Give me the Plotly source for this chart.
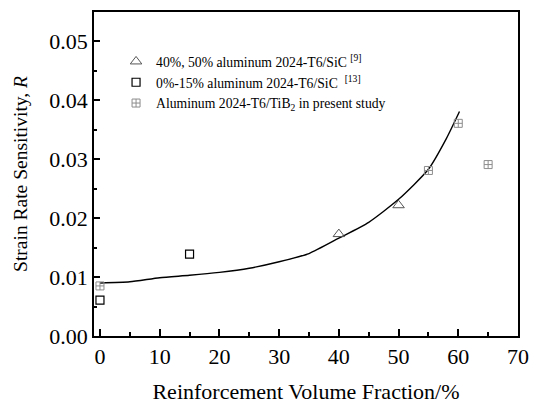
import plotly.graph_objects as go

# Data
tri_x = [40, 50]
tri_y = [0.0173, 0.0222]
sq_x = [0, 15]
sq_y = [0.0061, 0.0139]
tib_x = [0, 55, 60, 65]
tib_y = [0.0085, 0.0281, 0.0361, 0.0291]
curve_x = [0, 5, 10, 15, 20, 25, 30, 35, 40, 45, 50, 55, 58, 60.2]
curve_y = [0.0090, 0.0092, 0.0099, 0.0103, 0.0108, 0.0115, 0.0126, 0.0140,
           0.0166, 0.0193, 0.0232, 0.0283, 0.0335, 0.0381]

x_ticks = [0, 10, 20, 30, 40, 50, 60, 70]
y_ticks = [0.00, 0.01, 0.02, 0.03, 0.04, 0.05]

FONT = "Liberation Serif"

fig = go.Figure()
fig.add_trace(go.Scatter(x=curve_x, y=curve_y, mode="lines",
                         line=dict(color="black", width=1.4, shape="spline", smoothing=0.6),
                         showlegend=False))
fig.add_trace(go.Scatter(x=tri_x, y=tri_y, mode="markers",
                         name="40%, 50% aluminum 2024-T6/SiC <sup>[9]</sup>",
                         marker=dict(symbol="triangle-up-open", size=10, color="#555555",
                                     line=dict(width=1))))
fig.add_trace(go.Scatter(x=sq_x, y=sq_y, mode="markers",
                         name="0%-15% aluminum 2024-T6/SiC  <sup>[13]</sup>",
                         marker=dict(symbol="square-open", size=8, color="black",
                                     line=dict(width=1.2))))
fig.add_trace(go.Scatter(x=tib_x, y=tib_y, mode="markers",
                         name="Aluminum 2024-T6/TiB<sub>2</sub> in present study",
                         marker=dict(symbol="square-cross-open", size=8, color="#8c8c8c",
                                     line=dict(width=1))))

fig.update_layout(
    width=537, height=404,
    margin=dict(l=94, r=19, t=12, b=68),
    paper_bgcolor="white", plot_bgcolor="white",
    font=dict(family=FONT, color="black"),
    legend=dict(x=0.052, y=0.895, xanchor="left", yanchor="top",
                font=dict(family=FONT, size=13.7, color="black"),
                bgcolor="rgba(0,0,0,0)", tracegroupgap=0),
)
fig.update_xaxes(range=[-1, 70], tickvals=x_ticks, ticks="inside", ticklen=7,
                 tickwidth=1.5, tickcolor="black", automargin=False,
                 minor=dict(ticks="inside", ticklen=4, dtick=5, tick0=0,
                            tickcolor="black", tickwidth=1.5),
                 showline=True, linecolor="black", linewidth=1.8, mirror=True,
                 showgrid=False, zeroline=False,
                 tickfont=dict(family=FONT, size=22, color="black"),
                 title=dict(text="Reinforcement Volume Fraction/%",
                            font=dict(family=FONT, size=22, color="black"), standoff=20))
fig.update_yaxes(range=[0, 0.055], tickvals=y_ticks, tickformat=".2f",
                 ticks="inside", ticklen=6, tickwidth=1.5, tickcolor="black",
                 automargin=False,
                 minor=dict(ticks="inside", ticklen=3, dtick=0.005, tick0=0,
                            tickcolor="black", tickwidth=1.5),
                 showline=True, linecolor="black", linewidth=1.8, mirror=True,
                 showgrid=False, zeroline=False,
                 tickfont=dict(family=FONT, size=22, color="black"),
                 title=dict(text="Strain Rate Sensitivity, <i>R</i>",
                            font=dict(family=FONT, size=19.5, color="black"), standoff=16))

fig.write_html("out.html", config={"displayModeBar": False},
               post_script="document.body.style.margin='0';")
